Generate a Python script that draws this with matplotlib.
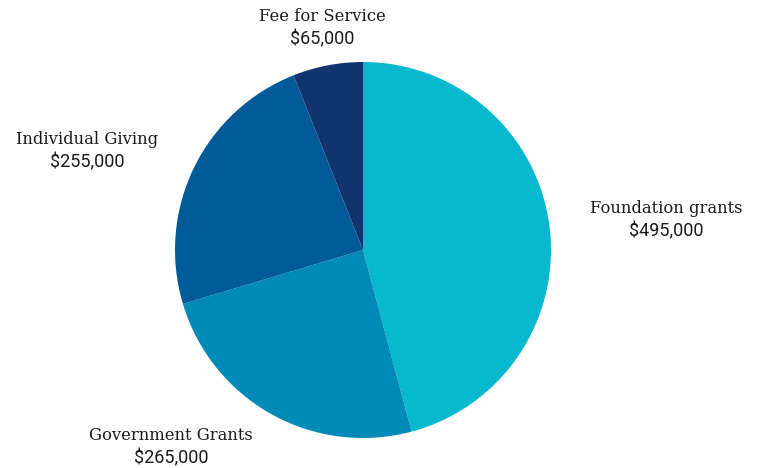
import matplotlib
matplotlib.use("Agg")
import matplotlib.pyplot as plt

categories = ["Foundation grants", "Government Grants", "Individual Giving", "Fee for Service"]
values = [495000, 265000, 255000, 65000]
colors = ["#08B8CF", "#008AB8", "#005B98", "#12346F"]

# label centre positions in pixels (x, y from top)
label_pos = [(666, 220), (171, 447), (87, 151), (322, 28)]

W, H = 759, 468
fig = plt.figure(figsize=(W / 100, H / 100), dpi=100)
ax = fig.add_axes([0, 0, 1, 1])

ax.pie(values, colors=colors, startangle=90, counterclock=False,
       center=(363, H - 250), radius=188, frame=True,
       wedgeprops=dict(linewidth=0))
ax.set_xlim(0, W)
ax.set_ylim(0, H)
ax.set_aspect("equal")
ax.axis("off")

for cat, val, (x, y) in zip(categories, values, label_pos):
    ax.text(x, H - y + 11.5, cat, ha="center", va="center", fontsize=11.8,
            family="DejaVu Serif", color="#1a1a1a")
    ax.text(x, H - y - 11.5, f"${val:,.0f}", ha="center", va="center",
            fontsize=13, family="Roboto", color="#1a1a1a")

fig.savefig("out.png", dpi=100)
